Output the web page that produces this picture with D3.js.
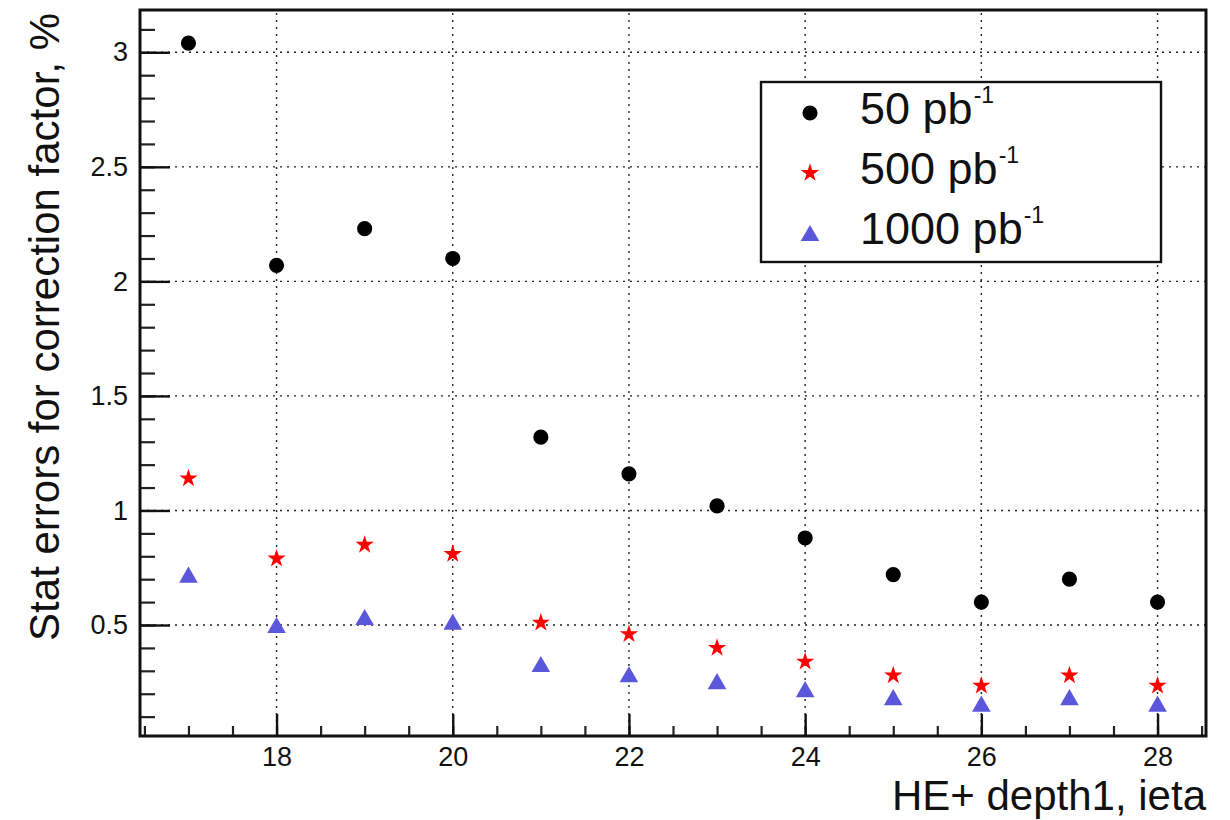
<!DOCTYPE html>
<html>
<head>
<meta charset="utf-8">
<script src="https://cdn.jsdelivr.net/npm/d3@7"></script>
<style>
  html, body { margin: 0; padding: 0; background: #fff; }
  svg { display: block; font-family: "Liberation Sans", Arial, Helvetica, sans-serif; }
</style>
</head>
<body>
<svg id="chart" width="1230" height="820"></svg>
<script>
// ieta bins of HE+ depth 1
const ieta = [17, 18, 19, 20, 21, 22, 23, 24, 25, 26, 27, 28];

// statistical error of the correction factor (%) for three integrated luminosities
const err50   = [3.04, 2.07, 2.23, 2.10, 1.32, 1.16, 1.02, 0.88, 0.72, 0.60, 0.70, 0.60];
const err500  = [1.14, 0.79, 0.85, 0.81, 0.51, 0.46, 0.40, 0.34, 0.28, 0.235, 0.28, 0.235];
const err1000 = [0.72, 0.50, 0.535, 0.515, 0.33, 0.285, 0.255, 0.22, 0.185, 0.157, 0.185, 0.157];

const seriesLabels = ["50 pb", "500 pb", "1000 pb"];
const seriesUnitExp = "-1";

// axis ticks
const xMajorTicks = [18, 20, 22, 24, 26, 28];
const xMinorTicks = d3.range(16.5, 28.51, 0.5);
const yMajorTicks = [0.5, 1, 1.5, 2, 2.5, 3];
const yMajorLabels = ["0.5", "1", "1.5", "2", "2.5", "3"];
const yMinorTicks = d3.range(0.1, 3.11, 0.1).map(v => +v.toFixed(1));

const xTitle = "HE+ depth1, ieta";
const yTitle = "Stat errors for correction factor, %";

// frame geometry
const frame = { left: 140, right: 1206, top: 10, bottom: 736 };
const svg = d3.select("#chart");

const x = d3.scaleLinear().domain([16.45, 28.55]).range([frame.left, frame.right]);
const y = d3.scaleLinear().domain([0.0155, 3.1846]).range([frame.bottom, frame.top]);

const fontFamily = '"Liberation Sans", Arial, Helvetica, sans-serif';

// dotted grid at the major ticks
const grid = svg.append("g").attr("class", "grid")
  .attr("stroke", "#222").attr("stroke-width", 1.4).attr("stroke-dasharray", "2,5");
grid.selectAll("line.gx").data(xMajorTicks).join("line")
  .attr("x1", d => x(d)).attr("x2", d => x(d))
  .attr("y1", frame.bottom).attr("y2", frame.top);
grid.selectAll("line.gy").data(yMajorTicks).join("line")
  .attr("x1", frame.left).attr("x2", frame.right)
  .attr("y1", d => y(d)).attr("y2", d => y(d));

// minor ticks (inside the frame)
const yMinorAxis = d3.axisLeft(y).tickValues(yMinorTicks).tickSize(-15).tickFormat("");
svg.append("g").attr("transform", `translate(${frame.left},0)`).call(yMinorAxis)
  .call(g => g.select(".domain").remove())
  .call(g => g.selectAll("line").attr("stroke", "#222").attr("stroke-width", 2.2));

const xMinorAxis = d3.axisBottom(x).tickValues(xMinorTicks).tickSize(-10).tickFormat("");
svg.append("g").attr("transform", `translate(0,${frame.bottom})`).call(xMinorAxis)
  .call(g => g.select(".domain").remove())
  .call(g => g.selectAll("line").attr("stroke", "#222").attr("stroke-width", 2.2));

// major axes with labels
const yAxis = d3.axisLeft(y).tickValues(yMajorTicks).tickSize(-30).tickPadding(12)
  .tickFormat((d, i) => yMajorLabels[i]);
svg.append("g").attr("transform", `translate(${frame.left},0)`).call(yAxis)
  .call(g => g.select(".domain").remove())
  .call(g => g.selectAll("line").attr("stroke", "#111").attr("stroke-width", 2.4))
  .call(g => g.selectAll("text").attr("fill", "#111")
    .style("font-size", "27px").style("font-family", fontFamily));

const xAxis = d3.axisBottom(x).tickValues(xMajorTicks).tickSize(-22).tickPadding(11)
  .tickFormat(d3.format("d"));
svg.append("g").attr("transform", `translate(0,${frame.bottom})`).call(xAxis)
  .call(g => g.select(".domain").remove())
  .call(g => g.selectAll("line").attr("stroke", "#111").attr("stroke-width", 2.4))
  .call(g => g.selectAll("text").attr("fill", "#111")
    .style("font-size", "27px").style("font-family", fontFamily));

// frame
svg.append("rect")
  .attr("x", frame.left).attr("y", frame.top)
  .attr("width", frame.right - frame.left).attr("height", frame.bottom - frame.top)
  .attr("fill", "none").attr("stroke", "#111").attr("stroke-width", 3);

// axis titles
svg.append("text")
  .attr("x", frame.right).attr("y", 810)
  .attr("text-anchor", "end")
  .style("font-size", "42px").attr("fill", "#111")
  .text(xTitle);

svg.append("text")
  .attr("transform", `translate(59,13) rotate(-90)`)
  .attr("text-anchor", "end")
  .style("font-size", "42px").attr("fill", "#111")
  .text(yTitle);

// marker shapes: upward triangle centred on its bounding box
const triangleUp = {
  draw(ctx, size) {
    const h = Math.sqrt(size * 4 / Math.sqrt(3)) * Math.sqrt(3) / 2;
    const w = h * 2 / Math.sqrt(3);
    ctx.moveTo(0, -h / 2);
    ctx.lineTo(w / 2, h / 2);
    ctx.lineTo(-w / 2, h / 2);
    ctx.closePath();
  }
};

const series = [
  { values: err50,   color: "#000000", type: d3.symbolCircle, size: 180 },
  { values: err500,  color: "#ff0000", type: d3.symbolStar,   size: 105 },
  { values: err1000, color: "#5b57db", type: triangleUp,      size: 150 }
];

series.forEach(s => {
  svg.append("g").selectAll("path")
    .data(ieta.map((v, i) => ({ x: v, y: s.values[i] })))
    .join("path")
    .attr("transform", d => `translate(${x(d.x)},${y(d.y)})`)
    .attr("d", d3.symbol().type(s.type).size(s.size)())
    .attr("fill", s.color);
});

// legend
const legend = { x: 761, y: 82, w: 400, h: 180 };
const lg = svg.append("g");
lg.append("rect")
  .attr("x", legend.x).attr("y", legend.y)
  .attr("width", legend.w).attr("height", legend.h)
  .attr("fill", "#fff").attr("stroke", "#111").attr("stroke-width", 2.4);

const rowY = [113, 173, 233];
series.forEach((s, i) => {
  lg.append("path")
    .attr("transform", `translate(810,${rowY[i]})`)
    .attr("d", d3.symbol().type(s.type).size(s.size)())
    .attr("fill", s.color);
  const t = lg.append("text")
    .attr("x", 860).attr("y", rowY[i] + 11)
    .style("font-size", "45px").attr("fill", "#111");
  t.append("tspan").text(seriesLabels[i]);
  t.append("tspan").attr("dy", -21).attr("dx", 1).style("font-size", "23px").text(seriesUnitExp);
});
</script>
</body>
</html>
